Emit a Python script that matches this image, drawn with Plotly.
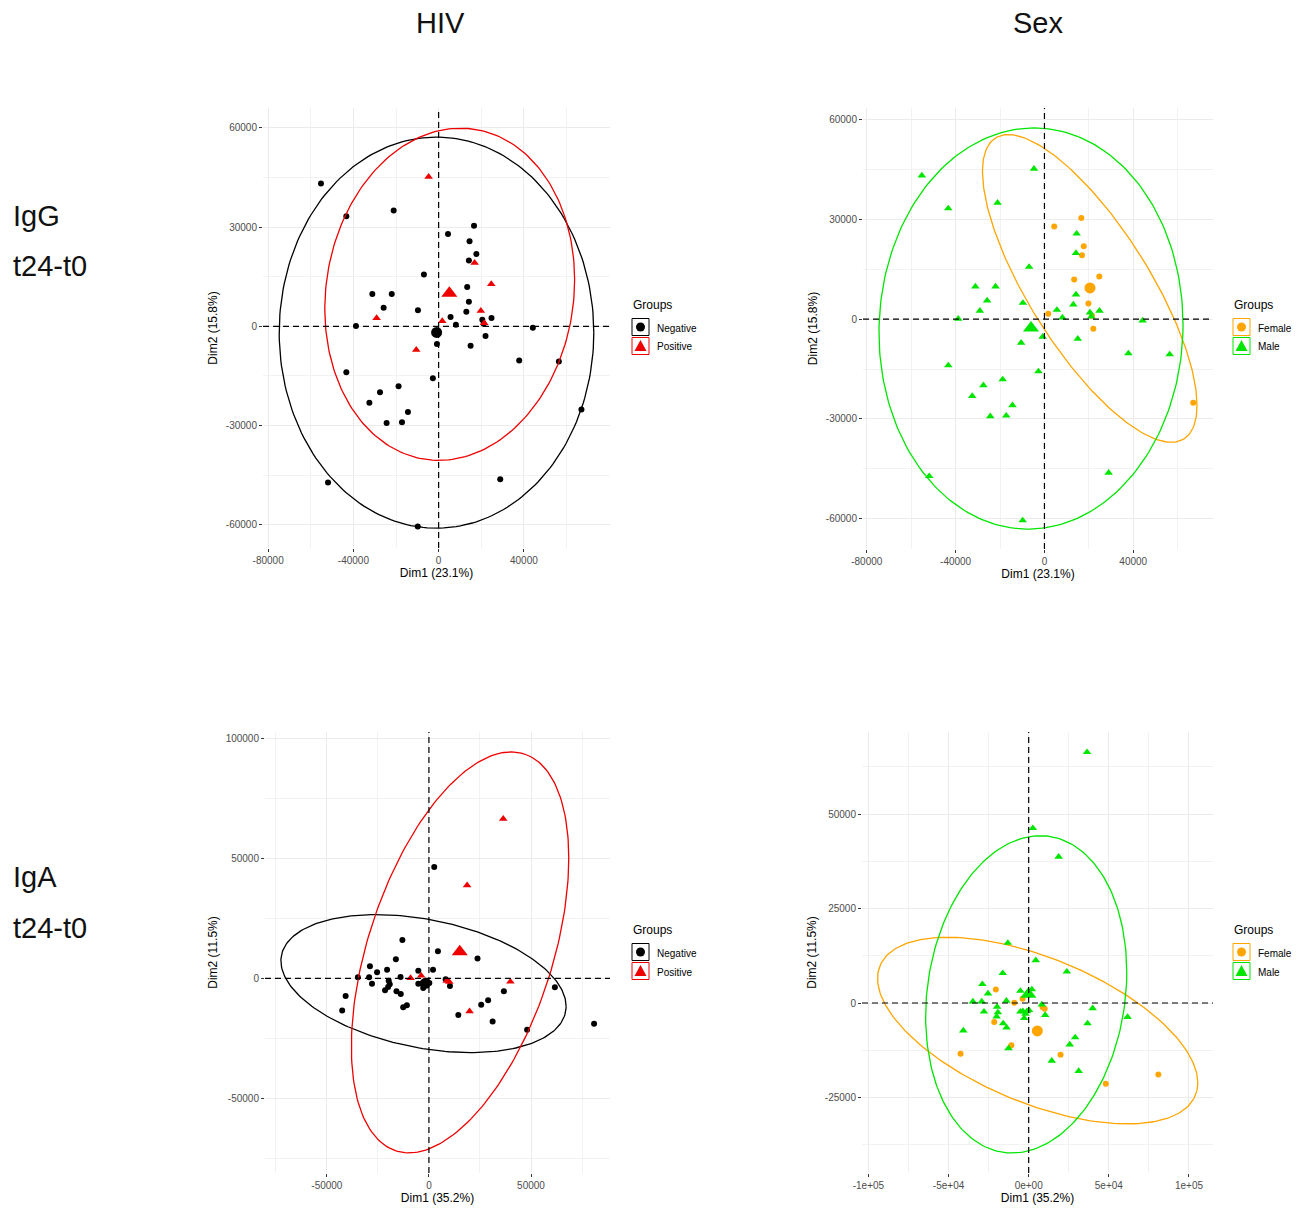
import numpy as np
import plotly.graph_objects as go

W, H = 1314, 1209
FONT = "Liberation Sans, Arial, sans-serif"

# ---------------- data ----------------
# IgG t24-t0 PCA individuals
igg_dim1 = [-55200, -43300, -21100, 4400, 16600, 14500, 17700, 14200, -6900, 13400,
            -31100, -22000, -25800, -9700, 14200, 13000, 5600, 8100, 20500, 24800,
            21100, 22000, 15000, -800, -38800, 44200, 37800, 56400, -43300, -2700,
            -18800, -27500, -32500, -14400, -17200, -24400, 67000, 28900, -51900, -9800,
            -4700, 16900, 24700, 19800, 21400, -29100, 1700, -10500]
igg_dim2 = [43200, 33300, 35000, 27900, 30400, 25700, 21900, 19900, 15700, 11900,
            9800, 9800, 5600, 4900, 7400, 4400, 2800, 500, 2000, 2500,
            800, -2900, -5900, -5300, 100, -400, -10300, -10600, -13900, -15700,
            -18100, -19900, -23100, -25900, -29000, -29200, -25100, -46200, -47200, -60500,
            45200, 19200, 12800, 4700, 1000, 2500, 1600, -7100]
igg_hiv = ["Negative"] * 40 + ["Positive"] * 8
igg_sex = ["Male", "Male", "Male", "Female", "Female", "Male", "Female", "Male", "Male", "Female",
           "Male", "Male", "Male", "Male", "Male", "Male", "Male", "Male", "Male", "Male",
           "Male", "Female", "Male", "Male", "Male", "Male", "Male", "Male", "Male", "Male",
           "Male", "Male", "Male", "Male", "Male", "Male", "Female", "Male", "Male", "Male",
           "Male", "Female", "Female", "Female", "Female", "Male", "Female", "Male"]

# IgA t24-t0 PCA individuals
iga_dim1 = [2600, 4400, -13000, -16200, -28900, -25400, -20500, -34800, -29300, -27900,
            -19700, -19200, -21500, -20000, -13900, -15900, -13800, -40800, -42500, -12600,
            -10800, -5200, -5200, -3600, -2800, -1100, 200, 2000, 8200, 10300,
            23800, 14400, 25600, 29000, 36700, 31200, 48100, 61700, 80900, -2000,
            36400, 18700, -9000, -3800, 8700, 10000, 39900, 19900]
iga_dim2 = [46300, 11300, 15900, 7900, 5000, 2500, 3600, 400, 400, -2300,
            -1000, -2500, -5000, -3600, 600, -5400, -6500, -7300, -13400, -12000,
            -11200, 3200, -2300, -2200, -4000, -2200, -1900, 3600, -400, -3200,
            8300, -15300, -11000, -9100, -5400, -18000, -21400, -3700, -18900, -2900,
            66400, 38700, 100, 1100, -1100, -1500, -1400, -13700]
iga_hiv = ["Negative"] * 40 + ["Positive"] * 8
iga_sex = ["Male", "Male", "Male", "Male", "Male", "Male", "Female", "Male", "Male", "Male",
           "Male", "Male", "Female", "Male", "Male", "Male", "Male", "Male", "Female", "Male",
           "Female", "Male", "Male", "Male", "Male", "Male", "Male", "Male", "Male", "Male",
           "Male", "Male", "Male", "Male", "Male", "Male", "Female", "Male", "Female", "Male",
           "Male", "Male", "Female", "Female", "Female", "Female", "Male", "Female"]

hiv_groups = ["Negative", "Positive"]
sex_groups = ["Female", "Male"]

# concentration ellipses: centre x, centre y, x half-extent, y half-extent, tilt (cos)
ell_igg_hiv = {"Negative": (-1000, -1900, 73800, 59100, 0.0),
               "Positive": (5200, 9700, 58600, 50200, 0.087)}
ell_igg_sex = {"Female": (20400, 9250, 48300, 46250, -0.76),
               "Male": (-6050, -2800, 68450, 60300, 0.02)}
ell_iga_hiv = {"Negative": (-2650, -2200, 69850, 28700, -0.33),
               "Positive": (15250, 10800, 53250, 83400, 0.47)}
ell_iga_sex = {"Female": (5600, -7300, 99900, 24700, -0.56),
               "Male": (-1550, 2300, 62750, 42000, 0.14)}

# axis ticks
igg_xticks = [-80000, -40000, 0, 40000]
igg_xticklabels = ["-80000", "-40000", "0", "40000"]
igg_yticks = [-60000, -30000, 0, 30000, 60000]
igg_yticklabels = ["-60000", "-30000", "0", "30000", "60000"]
iga_hiv_xticks = [-50000, 0, 50000]
iga_hiv_xticklabels = ["-50000", "0", "50000"]
iga_hiv_yticks = [-50000, 0, 50000, 100000]
iga_hiv_yticklabels = ["-50000", "0", "50000", "100000"]
iga_sex_xticks = [-100000, -50000, 0, 50000, 100000]
iga_sex_xticklabels = ["-1e+05", "-5e+04", "0e+00", "5e+04", "1e+05"]
iga_sex_yticks = [-25000, 0, 25000, 50000]
iga_sex_yticklabels = ["-25000", "0", "25000", "50000"]

colors = {"Negative": "#000000", "Positive": "#EE0000", "Female": "#FFA500", "Male": "#00E600"}
symbols = {"Negative": "circle", "Positive": "triangle-up", "Female": "circle", "Male": "triangle-up"}

# ---------------- layout of panels (pixel boxes) ----------------
panels = [
    dict(x=igg_dim1, y=igg_dim2, g=igg_hiv, groups=hiv_groups, ell=ell_igg_hiv,
         box=(263, 108, 610, 548), xr=[-82400, 80400], yr=[-67000, 66000],
         xt=(igg_xticks, igg_xticklabels), yt=(igg_yticks, igg_yticklabels),
         xminor=[-60000, -20000, 20000, 60000], yminor=[-45000, -15000, 15000, 45000],
         xtitle="Dim1 (23.1%)", ytitle="Dim2 (15.8%)", leg=(632, 305)),
    dict(x=igg_dim1, y=igg_dim2, g=igg_sex, groups=sex_groups, ell=ell_igg_sex,
         box=(863, 108, 1213, 549), xr=[-81700, 75900], yr=[-69100, 63500],
         xt=(igg_xticks, igg_xticklabels), yt=(igg_yticks, igg_yticklabels),
         xminor=[-60000, -20000, 20000, 60000], yminor=[-45000, -15000, 15000, 45000],
         xtitle="Dim1 (23.1%)", ytitle="Dim2 (15.8%)", leg=(1233, 305)),
    dict(x=iga_dim1, y=iga_dim2, g=iga_hiv, groups=hiv_groups, ell=ell_iga_hiv,
         box=(265, 732, 610, 1173), xr=[-80300, 88700], yr=[-81000, 102500],
         xt=(iga_hiv_xticks, iga_hiv_xticklabels), yt=(iga_hiv_yticks, iga_hiv_yticklabels),
         xminor=[-75000, -25000, 25000, 75000], yminor=[-75000, -25000, 25000, 75000],
         xtitle="Dim1 (35.2%)", ytitle="Dim2 (11.5%)", leg=(632, 930)),
    dict(x=iga_dim1, y=iga_dim2, g=iga_sex, groups=sex_groups, ell=ell_iga_sex,
         box=(862, 732, 1213, 1173), xr=[-104000, 115000], yr=[-45000, 71750],
         xt=(iga_sex_xticks, iga_sex_xticklabels), yt=(iga_sex_yticks, iga_sex_yticklabels),
         xminor=[-75000, -25000, 25000, 75000], yminor=[-37500, -12500, 12500, 37500, 62500],
         xtitle="Dim1 (35.2%)", ytitle="Dim2 (11.5%)", leg=(1233, 930)),
]


def fx(p):
    return p / W


def fy(p):
    return 1 - p / H


fig = go.Figure()
layout = dict(width=W, height=H, margin=dict(l=0, r=0, t=0, b=0, autoexpand=False),
              paper_bgcolor="white", plot_bgcolor="white", showlegend=False,
              font=dict(family=FONT, color="#000000"))
shapes = []
annotations = []
t = np.linspace(0, 2 * np.pi, 240)

for i, p in enumerate(panels):
    n = "" if i == 0 else str(i + 1)
    xa, ya = "x" + n, "y" + n
    x = np.array(p["x"], dtype=float)
    y = np.array(p["y"], dtype=float)
    g = np.array(p["g"])
    for grp in p["groups"]:
        m = g == grp
        col = colors[grp]
        sym = symbols[grp]
        # ellipse
        cx, cy, rx, ry, c = p["ell"][grp]
        d = np.arccos(c)
        fig.add_trace(go.Scatter(x=cx + rx * np.cos(t), y=cy + ry * np.cos(t - d),
                                 mode="lines", line=dict(color=col, width=1.3),
                                 xaxis=xa, yaxis=ya, hoverinfo="skip", name=grp))
        # individuals
        fig.add_trace(go.Scatter(x=x[m], y=y[m], mode="markers", name=grp,
                                 marker=dict(color=col, symbol=sym,
                                             size=6 if sym == "circle" else 7.5,
                                             line=dict(width=0)),
                                 xaxis=xa, yaxis=ya))
        # group mean point
        fig.add_trace(go.Scatter(x=[x[m].mean()], y=[y[m].mean()], mode="markers", name=grp + " mean",
                                 marker=dict(color=col, symbol=sym,
                                             size=11 if sym == "circle" else 14,
                                             line=dict(width=0)),
                                 xaxis=xa, yaxis=ya))
    x0, y0, x1, y1 = p["box"]
    common = dict(showline=False, zeroline=False, showgrid=True, gridcolor="#EBEBEB", gridwidth=1.1,
                  ticks="outside", ticklen=3, tickwidth=1, tickcolor="#333333", automargin=False,
                  tickfont=dict(size=10, color="#4D4D4D", family=FONT))
    layout["xaxis" + n] = dict(common, domain=[fx(x0), fx(x1)], range=p["xr"], anchor=ya,
                               tickvals=p["xt"][0], ticktext=p["xt"][1],
                               minor=dict(tickvals=p["xminor"], showgrid=True, gridcolor="#F2F2F2",
                                          gridwidth=0.8, ticks=""),
                               title=dict(text=p["xtitle"], font=dict(size=12, family=FONT), standoff=3))
    layout["yaxis" + n] = dict(common, domain=[fy(y1), fy(y0)], range=p["yr"], anchor=xa,
                               tickvals=p["yt"][0], ticktext=p["yt"][1],
                               minor=dict(tickvals=p["yminor"], showgrid=True, gridcolor="#F2F2F2",
                                          gridwidth=0.8, ticks=""),
                               title=dict(text=p["ytitle"], font=dict(size=12, family=FONT), standoff=5))
    # dashed reference lines at 0
    shapes.append(dict(type="line", xref=xa, yref=ya + " domain", x0=0, x1=0, y0=0, y1=1,
                       line=dict(color="black", width=1.2, dash="6px,4px"), layer="above"))
    shapes.append(dict(type="line", xref=xa + " domain", yref=ya, x0=0, x1=1, y0=0, y1=0,
                       line=dict(color="black", width=1.2, dash="6px,4px"), layer="above"))
    # legend (drawn manually, ggplot-like keys)
    lx, ly = p["leg"]
    annotations.append(dict(text="Groups", x=fx(lx - 1), y=fy(ly), xref="paper", yref="paper",
                            xanchor="left", yanchor="middle", showarrow=False,
                            font=dict(size=12, family=FONT, color="#000000")))
    for k, grp in enumerate(p["groups"]):
        cyk = ly + 22 + 19 * k
        col = colors[grp]
        shapes.append(dict(type="rect", xref="paper", yref="paper",
                           x0=fx(lx), x1=fx(lx + 17), y0=fy(cyk + 8.5), y1=fy(cyk - 8.5),
                           line=dict(color=col, width=1), fillcolor="white", layer="above"))
        ccx = lx + 8.5
        if symbols[grp] == "circle":
            shapes.append(dict(type="circle", xref="paper", yref="paper",
                               x0=fx(ccx - 4.5), x1=fx(ccx + 4.5), y0=fy(cyk + 4.5), y1=fy(cyk - 4.5),
                               line=dict(width=0), fillcolor=col, layer="above"))
        else:
            path = "M {:.5f},{:.5f} L {:.5f},{:.5f} L {:.5f},{:.5f} Z".format(
                fx(ccx - 6), fy(cyk + 5), fx(ccx + 6), fy(cyk + 5), fx(ccx), fy(cyk - 6))
            shapes.append(dict(type="path", path=path, xref="paper", yref="paper",
                               line=dict(width=0), fillcolor=col, layer="above"))
        annotations.append(dict(text=grp, x=fx(lx + 23), y=fy(cyk + 1), xref="paper", yref="paper",
                                xanchor="left", yanchor="middle", showarrow=False,
                                font=dict(size=10, family=FONT, color="#000000")))

# column & row headers
for txt, px, py, anc in [("HIV", 440, 23, "center"), ("Sex", 1038, 23, "center"),
                         ("IgG", 11, 216, "left"), ("t24-t0", 11, 266, "left"),
                         ("IgA", 11, 877, "left"), ("t24-t0", 11, 928, "left")]:
    annotations.append(dict(text=txt, x=fx(px), y=fy(py), xref="paper", yref="paper",
                            xanchor=anc, yanchor="middle", showarrow=False,
                            font=dict(size=29, family=FONT, color="#111111")))

layout["shapes"] = shapes
layout["annotations"] = annotations
fig.update_layout(**layout)
fig.write_html("out.html", config={"displayModeBar": False},
               post_script="document.body.style.margin='0px';")
